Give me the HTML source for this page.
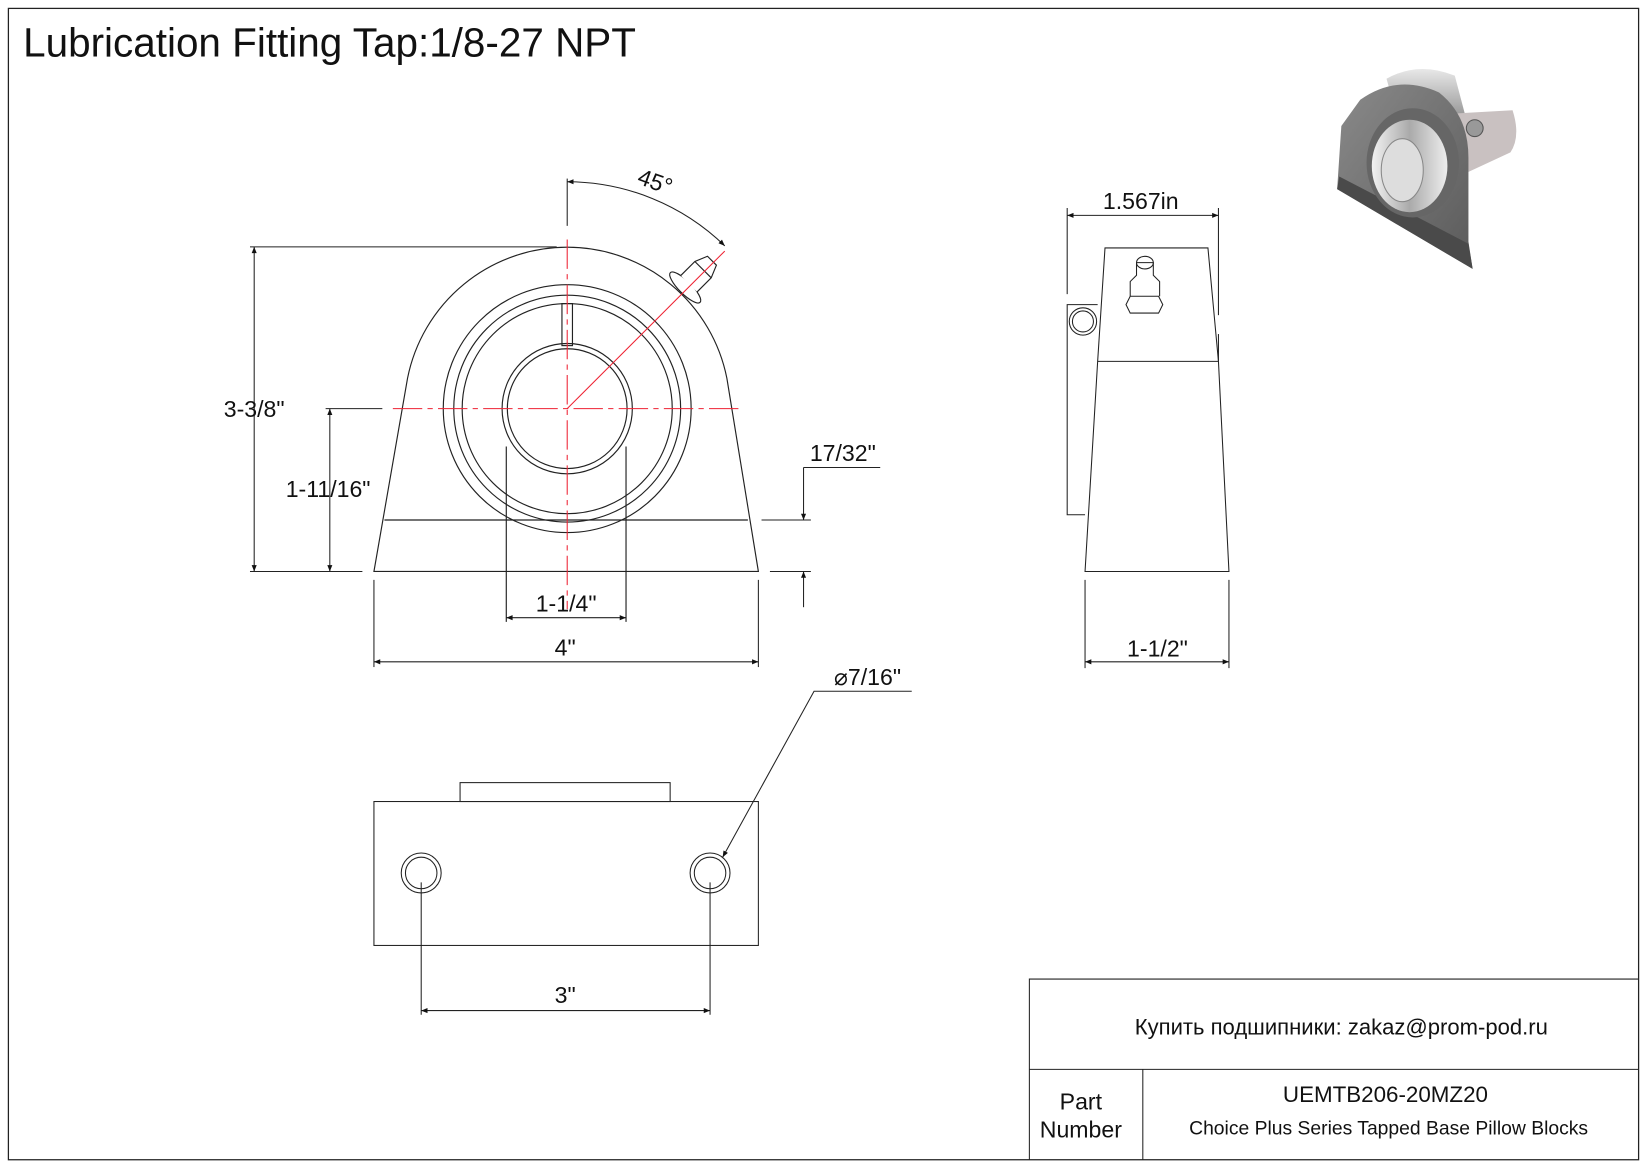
<!DOCTYPE html>
<html><head><meta charset="utf-8"><style>
html,body{margin:0;padding:0;background:#fff}
svg{display:block}
text{font-family:"Liberation Sans","DejaVu Sans",sans-serif;fill:#111}
</style></head><body>
<svg width="1647" height="1165" viewBox="0 0 1568 1109" preserveAspectRatio="none" xmlns="http://www.w3.org/2000/svg">
<defs>
<marker id="a" viewBox="0 0 10 10" refX="10" refY="5" markerWidth="14" markerHeight="6" markerUnits="userSpaceOnUse" orient="auto-start-reverse"><path d="M0,1 L10,5 L0,9 Z" fill="#111"/></marker>
<linearGradient id="g1" x1="0" y1="0" x2="1" y2="1"><stop offset="0" stop-color="#8a8a8a"/><stop offset="1" stop-color="#5a5a5a"/></linearGradient>
<linearGradient id="g2" x1="0" y1="0" x2="1" y2="0"><stop offset="0" stop-color="#f2f2f2"/><stop offset=".5" stop-color="#aaa"/><stop offset="1" stop-color="#eee"/></linearGradient>
<linearGradient id="g3" x1="0" y1="0" x2="0" y2="1"><stop offset="0" stop-color="#e8e8e8"/><stop offset="1" stop-color="#999"/></linearGradient>
</defs>
<rect x="8" y="8" width="1552" height="1096" fill="none" stroke="#222" stroke-width="1.2"/>
<text x="22" y="54" font-size="38.5">Lubrication Fitting Tap:1/8-27 NPT</text>

<!-- 3D image -->
<g>
<path d="M1320,75 Q1350,58 1385,72 L1395,110 L1330,110 Z" fill="url(#g3)"/>
<path d="M1385,108 L1440,105 Q1448,130 1438,145 L1395,165 Z" fill="#c9c1c1"/>
<circle cx="1404" cy="122" r="8" fill="#999" stroke="#555"/>
<path d="M1295,95 Q1330,70 1370,88 Q1398,110 1398,150 L1398,230 L1402,256 L1273,180 L1277,120 Z" fill="url(#g1)"/>
<path d="M1273,180 L1402,256 L1398,232 L1275,168 Z" fill="#4a4a4a"/>
<ellipse cx="1345" cy="155" rx="44" ry="52" fill="#666"/>
<ellipse cx="1342" cy="158" rx="36" ry="44" fill="url(#g2)"/>
<ellipse cx="1335" cy="162" rx="20" ry="30" fill="#ddd" stroke="#888"/>
</g>

<g fill="none" stroke="#222" stroke-width="1.1">
<!-- front view -->
<path d="M356,544 L388,360 A155,155 0 0 1 692,360 L722,544 Z"/>
<line x1="366" y1="495" x2="712" y2="495"/>
<circle cx="540" cy="389" r="118"/>
<circle cx="540" cy="389" r="108"/>
<circle cx="540" cy="389" r="100"/>
<circle cx="540" cy="389" r="62"/>
<circle cx="540" cy="389" r="57"/>
<rect x="535" y="289" width="10" height="40"/>
<line x1="482" y1="425" x2="482" y2="592"/>
<line x1="596" y1="425" x2="596" y2="592"/>
<!-- fitting -->
<g transform="rotate(45 658 268)">
<ellipse cx="658" cy="276" rx="20" ry="6" fill="#fff"/>
<path d="M647,271 L647,252 L652,240 L664,240 L669,252 L669,271" fill="#fff"/>
<line x1="647" y1="252" x2="669" y2="252"/>
</g>
</g>

<g stroke="#e23" stroke-width="1" fill="none">
<line x1="540" y1="228" x2="540" y2="580" stroke-dasharray="28,5,5,5"/>
<line x1="374" y1="389" x2="705" y2="389" stroke-dasharray="28,5,5,5"/>
<line x1="540" y1="389" x2="690" y2="239"/>
</g>

<g fill="none" stroke="#222" stroke-width="1">
<line x1="238" y1="235" x2="530" y2="235"/>
<line x1="238" y1="544" x2="345" y2="544"/>
<line x1="242" y1="235" x2="242" y2="544" marker-start="url(#a)" marker-end="url(#a)"/>
<line x1="310" y1="389" x2="364" y2="389"/>
<line x1="314" y1="389" x2="314" y2="544" marker-start="url(#a)" marker-end="url(#a)"/>
<line x1="725" y1="495" x2="772" y2="495"/>
<line x1="733" y1="544" x2="772" y2="544"/>
<line x1="765" y1="445" x2="765" y2="495" marker-end="url(#a)"/>
<line x1="765" y1="578" x2="765" y2="544" marker-end="url(#a)"/>
<line x1="765" y1="445" x2="838" y2="445"/>
<line x1="482" y1="588" x2="596" y2="588" marker-start="url(#a)" marker-end="url(#a)"/>
<line x1="356" y1="552" x2="356" y2="635"/>
<line x1="722" y1="552" x2="722" y2="635"/>
<line x1="356" y1="630" x2="722" y2="630" marker-start="url(#a)" marker-end="url(#a)"/>
<line x1="540" y1="170" x2="540" y2="215"/>
<path d="M540,173 A216,216 0 0 1 690,234" marker-start="url(#a)" marker-end="url(#a)"/>

<!-- side view -->
<path d="M1033,544 L1045,344 L1052,236 L1150,236 L1160,344 L1170,544 Z"/>
<line x1="1045" y1="344" x2="1160" y2="344"/>
<path d="M1045,290 L1016,290 L1016,490 L1033,490"/>
<line x1="1160" y1="318" x2="1160" y2="344"/>
<circle cx="1031" cy="306" r="13"/>
<circle cx="1031" cy="306" r="10"/>
<path d="M1072,290 L1076,298 L1103,298 L1107,290 L1103,282 L1076,282 Z"/>
<path d="M1076,282 L1076,268 L1082,262 L1082,250 L1098,250 L1098,262 L1104,268 L1104,282"/>
<ellipse cx="1090" cy="250" rx="8" ry="6"/>
<line x1="1016" y1="198" x2="1016" y2="280"/>
<line x1="1160" y1="198" x2="1160" y2="300"/>
<line x1="1016" y1="205" x2="1160" y2="205" marker-start="url(#a)" marker-end="url(#a)"/>
<line x1="1033" y1="552" x2="1033" y2="636"/>
<line x1="1170" y1="552" x2="1170" y2="636"/>
<line x1="1033" y1="630" x2="1170" y2="630" marker-start="url(#a)" marker-end="url(#a)"/>

<!-- bottom view -->
<rect x="356" y="763" width="366" height="137"/>
<rect x="438" y="745" width="200" height="18"/>
<circle cx="401" cy="831" r="19"/><circle cx="401" cy="831" r="15"/>
<circle cx="676" cy="831" r="19"/><circle cx="676" cy="831" r="15"/>
<line x1="401" y1="840" x2="401" y2="966"/>
<line x1="676" y1="840" x2="676" y2="966"/>
<line x1="401" y1="962" x2="676" y2="962" marker-start="url(#a)" marker-end="url(#a)"/>
<path d="M868,658 L775,658 L688,816" marker-end="url(#a)"/>

<!-- title block -->
<path d="M1560,932 L980,932 L980,1104"/>
<line x1="980" y1="1018" x2="1560" y2="1018"/>
<line x1="1088" y1="1018" x2="1088" y2="1104"/>
</g>

<g font-size="22">
<text x="606" y="180" transform="rotate(20 622 176)">45°</text>
<text x="213" y="397">3-3/8"</text>
<text x="272" y="473">1-11/16"</text>
<text x="771" y="439">17/32"</text>
<text x="510" y="582">1-1/4"</text>
<text x="528" y="624">4"</text>
<text x="1050" y="199">1.567in</text>
<text x="1073" y="625">1-1/2"</text>
<text x="794" y="652">⌀7/16"</text>
<text x="528" y="955">3"</text>
<text x="1277" y="985" font-size="21" text-anchor="middle">Купить подшипники: zakaz@prom-pod.ru</text>
<text x="1319" y="1049" font-size="21.3" text-anchor="middle">UEMTB206-20MZ20</text>
<text x="1322" y="1080" font-size="18.4" text-anchor="middle">Choice Plus Series Tapped Base Pillow Blocks</text>
<text x="1029" y="1056" text-anchor="middle">Part</text>
<text x="1029" y="1083" text-anchor="middle">Number</text>
</g>
</svg>
</body></html>
